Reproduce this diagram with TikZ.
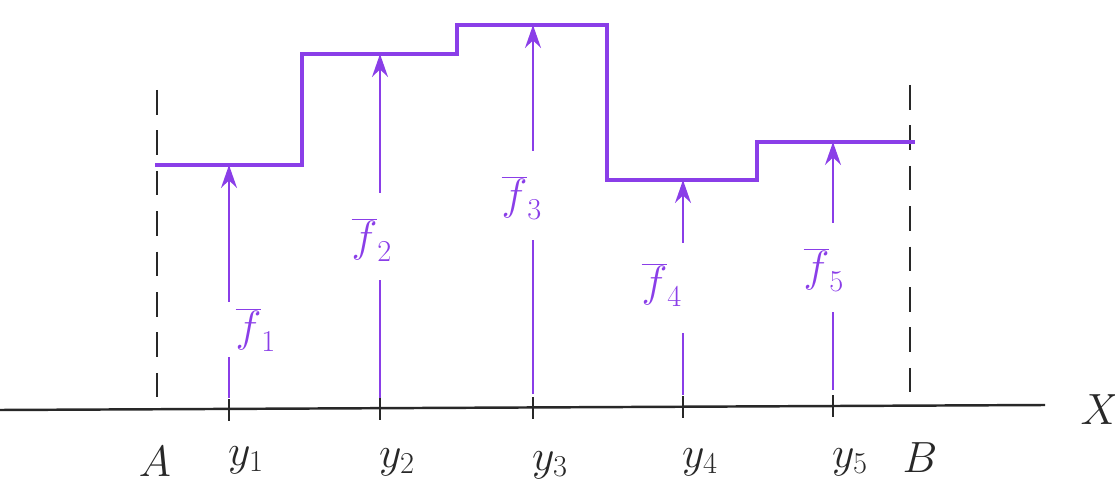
\documentclass[tikz,border=0pt]{standalone}
\usetikzlibrary{arrows.meta}
\definecolor{pen}{RGB}{138,62,232}
\definecolor{ink}{RGB}{40,40,40}
\newcommand{\fb}[1]{\overline{f}_{#1}}
\begin{document}
\begin{tikzpicture}[x=0.02cm,y=-0.02cm,
  stepline/.style={draw=pen,line width=2.6pt,line join=miter},
  upper/.style={draw=pen,line width=1.6pt,-{Stealth[length=13pt,width=9pt]}},
  lower/.style={draw=pen,line width=1.6pt},
  axisline/.style={draw=ink,line width=1.4pt},
  bound/.style={draw=ink,line width=1.3pt,dash pattern=on 14pt off 9pt},
  tick/.style={draw=ink,line width=1.3pt},
  flab/.style={text=pen,font=\fontsize{25}{29}\selectfont,inner sep=1pt},
  xlab/.style={text=ink,font=\fontsize{24}{28}\selectfont,inner sep=1pt}]
\useasboundingbox (0,0) rectangle (1115,496);
% axis
\coordinate (axL) at (0,410);
\coordinate (axR) at (1045,405);
\draw[axisline] (axL) -- (axR);
\node[xlab] (X) at (1100,410) {$X$};
% bounds
\coordinate (At) at (157,90);
\coordinate (Ab) at (157,412);
\coordinate (Bt) at (910,85);
\coordinate (Bb) at (910,408);
\draw[bound] (At) -- (Ab);
\draw[bound] (Bt) -- (Bb);
\node[xlab] (A) at (155,462) {$A$};
\node[xlab] (B) at (920,458) {$B$};
% step function
\coordinate (s1a) at (155,165);
\coordinate (s1b) at (302,165);
\coordinate (s2a) at (302,54);
\coordinate (s2b) at (457,54);
\coordinate (s3a) at (457,25);
\coordinate (s3b) at (607,25);
\coordinate (s4a) at (607,180);
\coordinate (s4b) at (757,180);
\coordinate (s5a) at (757,142);
\coordinate (s5b) at (915,142);
\draw[stepline] (s1a) -- (s1b) -- (s2a) -- (s2b) -- (s3a) -- (s3b) -- (s4a) -- (s4b) -- (s5a) -- (s5b);
% ticks and y labels
\foreach \i/\x/\yb/\yl in {1/229/409/460, 2/380/408/462, 3/533/407/465, 4/683/406/462, 5/833/405/462}{
  \coordinate (tt\i) at (\x,\yb-10);
  \coordinate (tb\i) at (\x,\yb+12);
  \draw[tick] (tt\i) -- (tb\i);
  \node[xlab] (y\i) at (\x+17,\yl) {$y_{\i}$};
}
% arrows with labels
% f1
\coordinate (a1t) at (229,165);
\coordinate (a1m) at (229,302);
\coordinate (a1l) at (229,357);
\coordinate (a1b) at (229,398);
\draw[upper] (a1m) -- (a1t);
\draw[lower] (a1b) -- (a1l);
\node[flab] (f1) at (256,330) {$\fb{1}$};
% f2
\coordinate (a2t) at (380,54);
\coordinate (a2m) at (380,193);
\coordinate (a2l) at (380,280);
\coordinate (a2b) at (380,398);
\draw[upper] (a2m) -- (a2t);
\draw[lower] (a2b) -- (a2l);
\node[flab] (f2) at (372,240) {$\fb{2}$};
% f3
\coordinate (a3t) at (533,25);
\coordinate (a3m) at (533,151);
\coordinate (a3l) at (533,240);
\coordinate (a3b) at (533,394);
\draw[upper] (a3m) -- (a3t);
\draw[lower] (a3b) -- (a3l);
\node[flab] (f3) at (522,198) {$\fb{3}$};
% f4
\coordinate (a4t) at (683,180);
\coordinate (a4m) at (683,243);
\coordinate (a4l) at (683,333);
\coordinate (a4b) at (683,395);
\draw[upper] (a4m) -- (a4t);
\draw[lower] (a4b) -- (a4l);
\node[flab] (f4) at (662,285) {$\fb{4}$};
% f5
\coordinate (a5t) at (833,142);
\coordinate (a5m) at (833,223);
\coordinate (a5l) at (833,312);
\coordinate (a5b) at (833,390);
\draw[upper] (a5m) -- (a5t);
\draw[lower] (a5b) -- (a5l);
\node[flab] (f5) at (824,270) {$\fb{5}$};
\end{tikzpicture}
\end{document}
